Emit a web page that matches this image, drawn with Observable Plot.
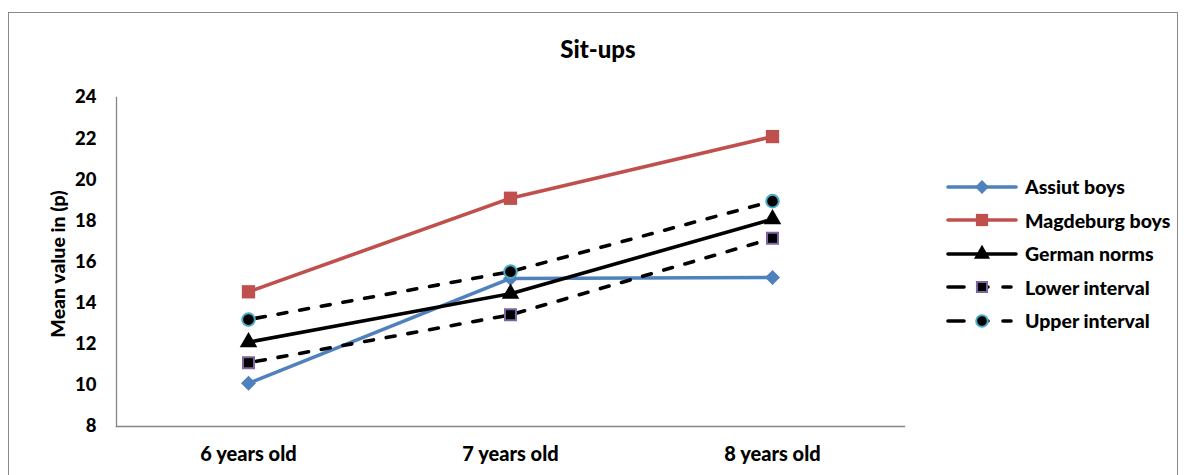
<!DOCTYPE html>
<html>
<head>
<meta charset="utf-8">
<script src="https://cdn.jsdelivr.net/npm/d3@7"></script>
<script src="https://cdn.jsdelivr.net/npm/@observablehq/plot@0.6"></script>
<style>
  body { margin: 0; background: #fff; font-family: Lato, "Open Sans", sans-serif; }
  #wrap { position: relative; width: 1186px; height: 475px; overflow: hidden; }
  #border { position: absolute; left: 8px; top: 12px; width: 1170px; height: 500px; border: 1.5px solid #8a8a8a; box-sizing: border-box; }
  #chart { position: absolute; left: 0; top: 0; }
  #title { position: absolute; left: 0; width: 1196px; top: 34px; text-align: center; font-weight: 900; font-size: 24px; color: #000; }
  #ylabel { position: absolute; left: 57px; top: 264px; transform: translate(-50%, -50%) rotate(-90deg); font-weight: 900; font-size: 19.5px; white-space: nowrap; }
  #legend { position: absolute; left: 946px; top: 170px; }
  .row { display: flex; align-items: center; height: 33.5px; font-weight: 900; font-size: 19.5px; }
  .row svg { margin-right: 7px; }
</style>
</head>
<body>
<div id="wrap">
  <div id="border"></div>
  <div id="chart"></div>
  <div id="title">Sit-ups</div>
  <div id="ylabel">Mean value in (p)</div>
  <div id="legend"></div>
</div>
<script>
const ages = ["6 years old", "7 years old", "8 years old"];
const assiutBoys = [10.1, 15.2, 15.25];
const magdeburgBoys = [14.55, 19.1, 22.1];
const germanNorms = [12.1, 14.46, 18.08];
const lowerInterval = [11.1, 13.43, 17.15];
const upperInterval = [13.2, 15.53, 18.96];
const yTicks = [8, 10, 12, 14, 16, 18, 20, 22, 24];

const series = [
  {name: "Assiut boys", values: assiutBoys, stroke: "#4F81BD", dash: null, symbol: "square", rotate: 45, r: 6, fill: "#4F81BD", mstroke: "#4F81BD", msw: 0},
  {name: "Magdeburg boys", values: magdeburgBoys, stroke: "#C0504D", dash: null, symbol: "square", rotate: 0, r: 7.5, fill: "#C0504D", mstroke: "#C0504D", msw: 0},
  {name: "German norms", values: germanNorms, stroke: "#000000", dash: null, symbol: "triangle", rotate: 0, r: 6.5, fill: "#000000", mstroke: "#000000", msw: 0},
  {name: "Lower interval", values: lowerInterval, stroke: "#000000", dash: "9,13", symbol: "square", rotate: 0, r: 6.2, fill: "#000000", mstroke: "#8064A2", msw: 2},
  {name: "Upper interval", values: upperInterval, stroke: "#000000", dash: "9,13", symbol: "circle", rotate: 0, r: 6.3, fill: "#000000", mstroke: "#4BACC6", msw: 2}
];

const rows = series.flatMap(s => s.values.map((v, i) => ({series: s.name, age: ages[i], value: v})));

const marks = [
  Plot.frame({anchor: "left", stroke: "#868686", strokeWidth: 1.3}),
  Plot.frame({anchor: "bottom", stroke: "#868686", strokeWidth: 1.3}),
  Plot.axisY({ticks: yTicks, tickSize: 0, tickPadding: 20, fontSize: 18.5, fontWeight: 900, label: null}),
  Plot.axisX({tickSize: 0, tickPadding: 20, fontSize: 20, fontWeight: 900, label: null})
];
for (const s of series) {
  const d = rows.filter(r => r.series === s.name);
  marks.push(Plot.line(d, {x: "age", y: "value", stroke: s.stroke, strokeWidth: 3.6, strokeDasharray: s.dash, strokeLinecap: s.dash ? "round" : "butt", strokeDashoffset: s.dash ? -8 : 0}));
}
for (const s of series) {
  const d = rows.filter(r => r.series === s.name);
  marks.push(Plot.dot(d, {x: "age", y: "value", symbol: s.symbol, r: s.r, rotate: s.rotate, fill: s.fill, stroke: s.mstroke, strokeWidth: s.msw}));
}

const chart = Plot.plot({
  width: 1186,
  height: 475,
  marginLeft: 116,
  marginRight: 282,
  marginTop: 97,
  marginBottom: 49,
  style: {fontFamily: "Lato, 'Open Sans', sans-serif", color: "#000", background: "transparent", overflow: "visible"},
  x: {type: "point", domain: ages, padding: 0.5},
  y: {domain: [8, 24]},
  marks
});
document.getElementById("chart").appendChild(chart);

// Legend
const legend = document.getElementById("legend");
for (const s of series) {
  const row = document.createElement("div");
  row.className = "row";
  const svg = d3.create("svg").attr("width", 72).attr("height", 20);
  svg.append("line").attr("x1", 2).attr("x2", 70).attr("y1", 10).attr("y2", 10)
    .attr("stroke", s.stroke).attr("stroke-width", 3.6)
    .attr("stroke-linecap", "round")
    .attr("stroke-dasharray", s.dash ? "16,16,8,15,8" : null);
  const sym = {square: d3.symbolSquare, circle: d3.symbolCircle, triangle: d3.symbolTriangle}[s.symbol];
  const rr = s.r * 0.92;
  svg.append("path").attr("d", d3.symbol(sym, Math.PI * rr * rr)())
    .attr("transform", `translate(36,10) rotate(${s.rotate})`)
    .attr("fill", s.fill).attr("stroke", s.mstroke).attr("stroke-width", s.msw);
  row.appendChild(svg.node());
  const t = document.createElement("span");
  t.textContent = s.name;
  row.appendChild(t);
  legend.appendChild(row);
}
</script>
</body>
</html>
